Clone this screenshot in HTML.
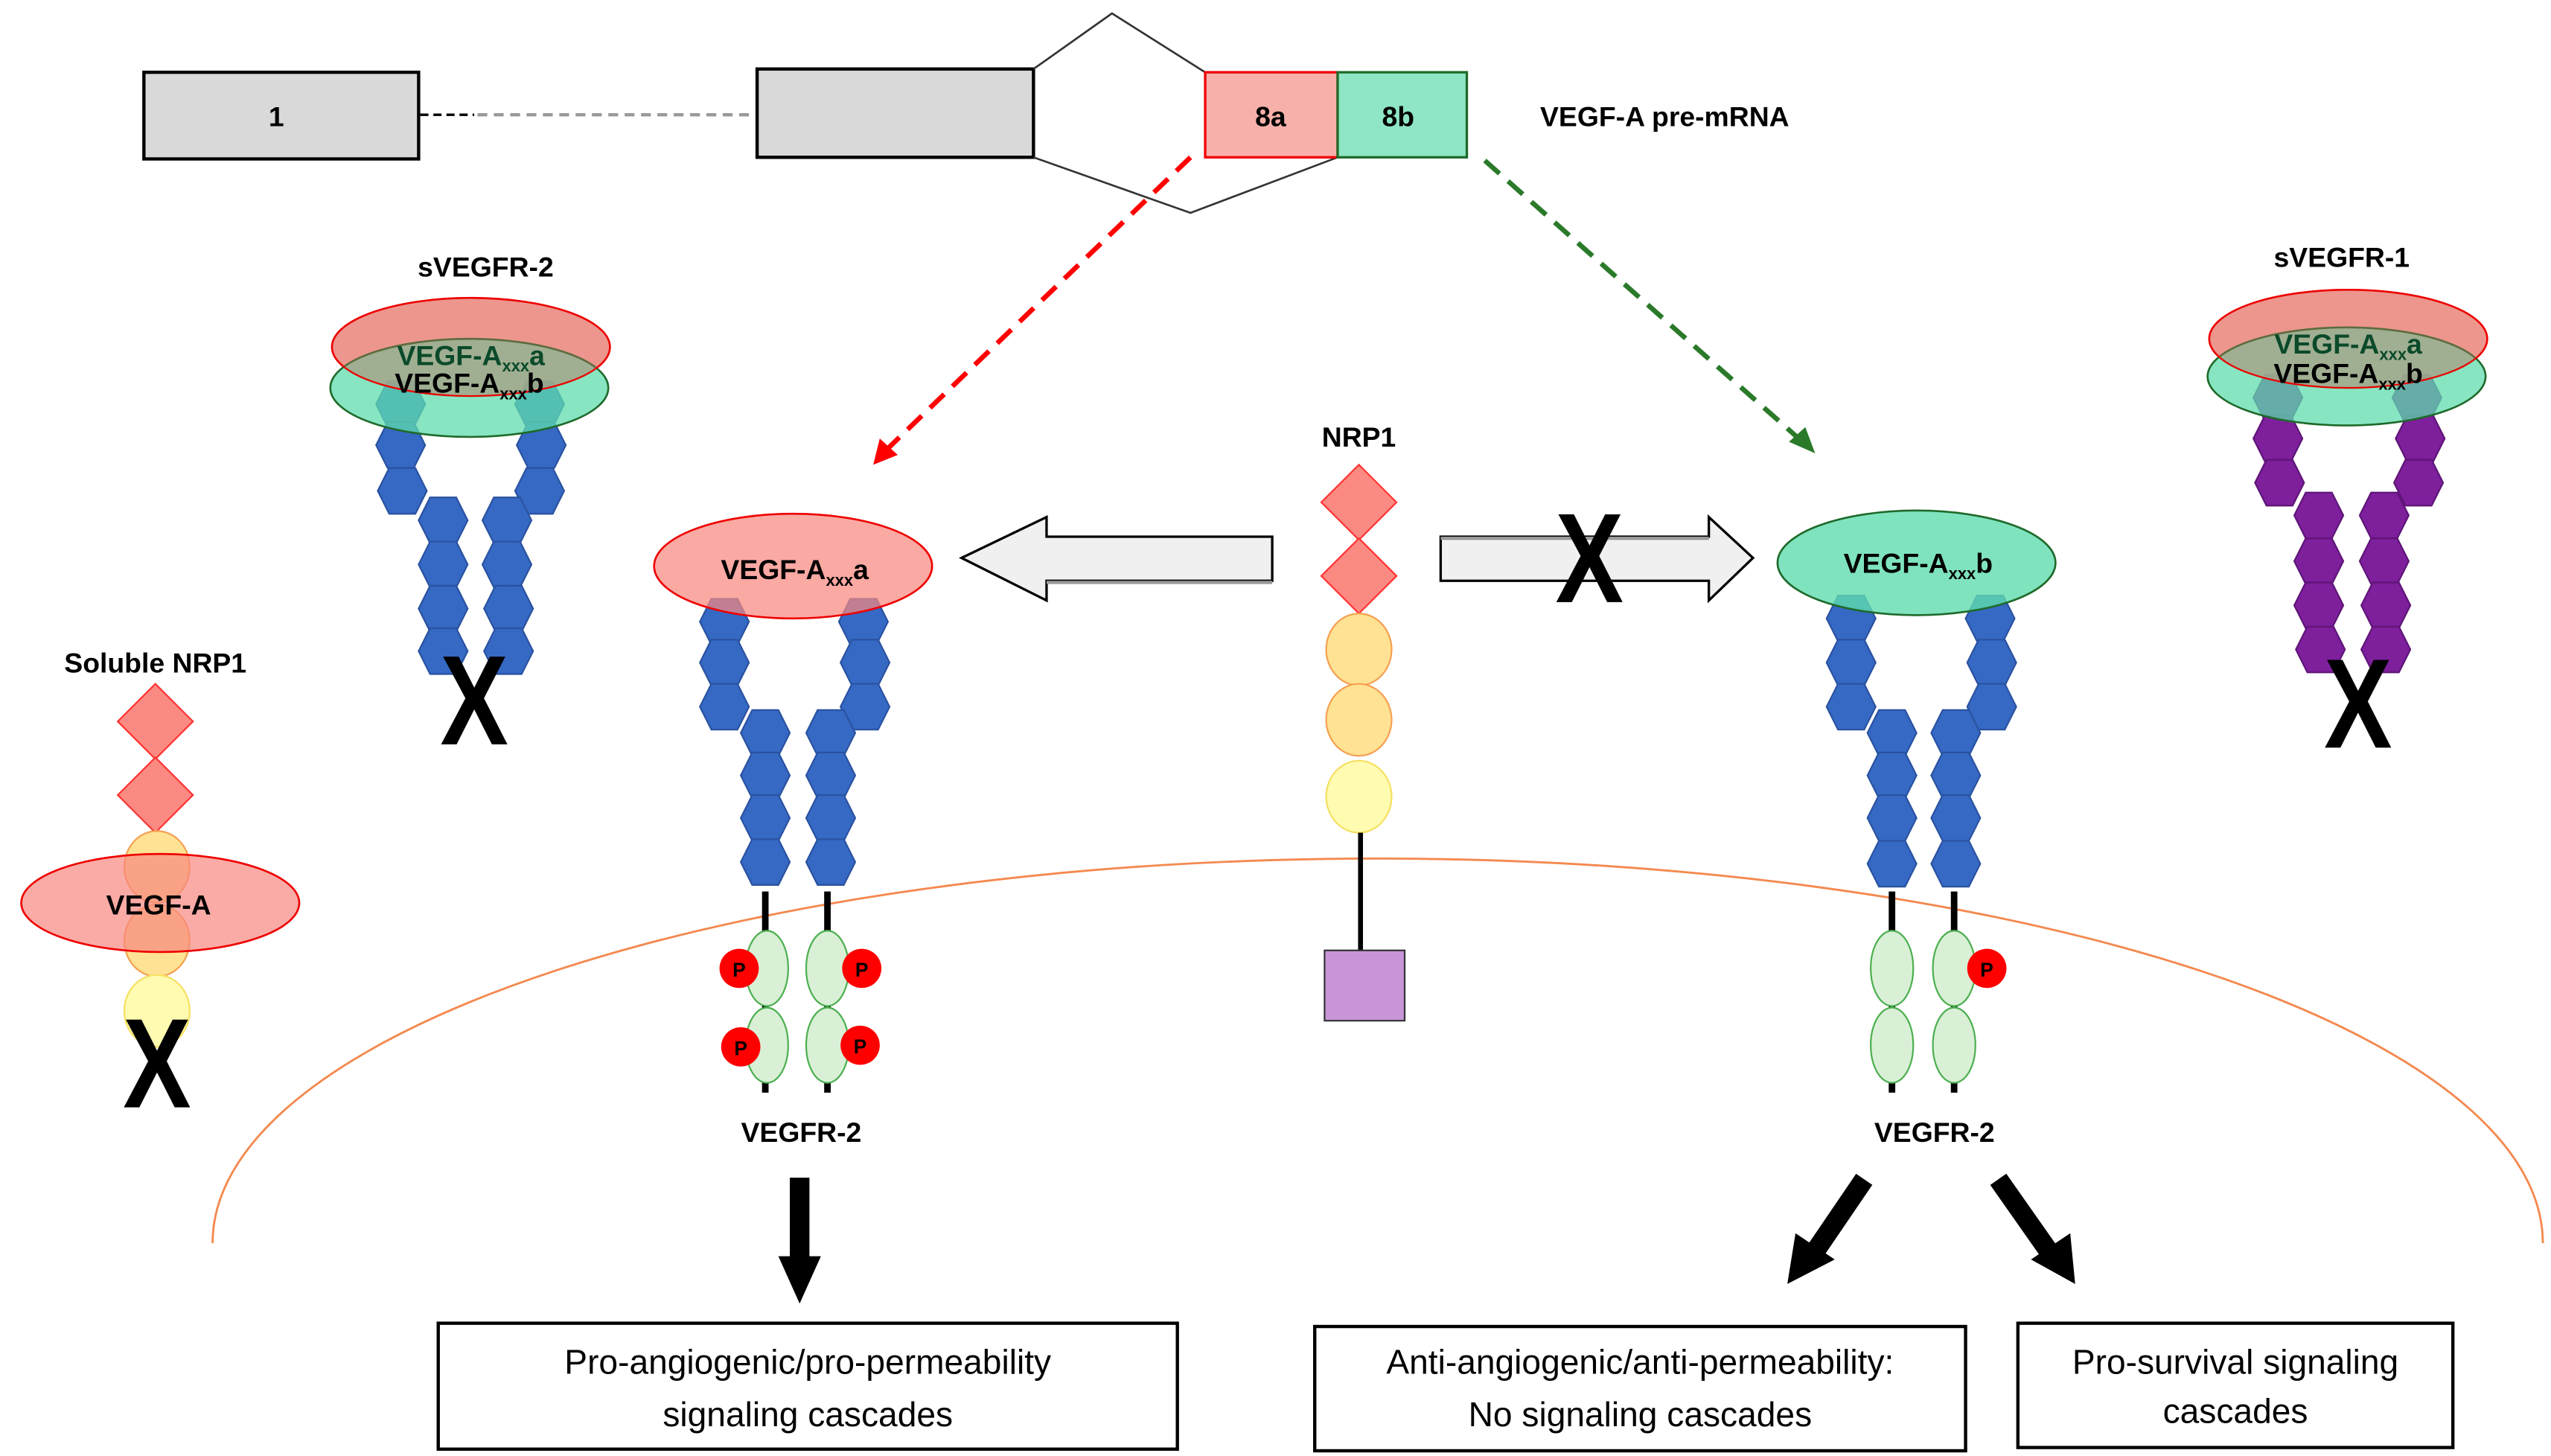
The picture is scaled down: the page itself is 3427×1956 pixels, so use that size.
<!DOCTYPE html>
<html><head><meta charset="utf-8"><style>
html,body{margin:0;padding:0;background:#fff;}
svg{display:block;}
text{font-family:"Liberation Sans",sans-serif;}
.lb{font-weight:bold;font-size:17px;fill:#000;text-anchor:middle;}
.bx{font-size:21px;fill:#000;text-anchor:middle;}
.xx{font-size:78px;font-weight:bold;text-anchor:middle;fill:#000;}
</style></head><body>
<svg width="3427" height="1956" viewBox="0 0 1560 890" xmlns="http://www.w3.org/2000/svg">
<defs>
<polygon id="hb" points="-8,-14 8,-14 15,0 8,14 -8,14 -15,0" fill="#3569c4" stroke="#2a52a0" stroke-width="1"/>
<polygon id="hp" points="-8,-14 8,-14 15,0 8,14 -8,14 -15,0" fill="#7e1f9c" stroke="#5e1577" stroke-width="1"/>
</defs>

<!-- membrane arc -->
<path d="M130,760 A712,235 0 0 1 1555,760" fill="none" stroke="#f4894f" stroke-width="1.3"/>

<!-- pre-mRNA -->
<rect x="88" y="44" width="168" height="53" fill="#d9d9d9" stroke="#000" stroke-width="2"/>
<text x="169" y="77" class="lb">1</text>
<line x1="257" y1="70" x2="290" y2="70" stroke="#000" stroke-width="1.5" stroke-dasharray="5,3"/>
<line x1="292" y1="70" x2="462" y2="70" stroke="#999" stroke-width="2" stroke-dasharray="6,4"/>
<rect x="463" y="42" width="169" height="54" fill="#d9d9d9" stroke="#000" stroke-width="2"/>
<polyline points="632,42 680,8 737,44" fill="none" stroke="#333" stroke-width="1.2"/>
<polyline points="632,96 728,130 818,96" fill="none" stroke="#333" stroke-width="1.2"/>
<rect x="737" y="44" width="81" height="52" fill="#f8b0ab" stroke="#e00" stroke-width="1.5"/>
<rect x="818" y="44" width="79" height="52" fill="#8ee6c4" stroke="#1f6a2b" stroke-width="1.5"/>
<text x="777" y="77" class="lb">8a</text>
<text x="855" y="77" class="lb">8b</text>
<text x="1018" y="77" class="lb">VEGF-A pre-mRNA</text>

<!-- dashed arrows -->
<line x1="728" y1="96" x2="543" y2="274" stroke="#f00" stroke-width="3" stroke-dasharray="12,7"/>
<polygon points="534,284 538,268 549,278" fill="#f00"/>
<line x1="908" y1="98" x2="1100" y2="268" stroke="#2a7a2a" stroke-width="3" stroke-dasharray="12,7"/>
<polygon points="1110,277 1094,270 1104,261" fill="#2a7a2a"/>

<!-- sVEGFR-2 -->
<text x="297" y="169" class="lb">sVEGFR-2</text>
<use href="#hb" x="245" y="247"/><use href="#hb" x="245" y="272"/><use href="#hb" x="246" y="300"/>
<use href="#hb" x="271" y="318"/><use href="#hb" x="271" y="345"/><use href="#hb" x="271" y="372"/><use href="#hb" x="271" y="398"/>
<use href="#hb" x="330" y="247"/><use href="#hb" x="331" y="272"/><use href="#hb" x="330" y="300"/>
<use href="#hb" x="310" y="318"/><use href="#hb" x="310" y="345"/><use href="#hb" x="311" y="372"/><use href="#hb" x="311" y="398"/>
<ellipse cx="288" cy="212" rx="85" ry="30" fill="#f88880" fill-opacity="0.7" stroke="#e00" stroke-width="1.2"/>
<ellipse cx="287" cy="237" rx="85" ry="30" fill="#5fdcae" fill-opacity="0.75" stroke="#1f6a2b" stroke-width="1.2"/>
<ellipse cx="288" cy="212" rx="85" ry="30" fill="#d07060" fill-opacity="0.35" stroke="#e00" stroke-width="1"/>
<text x="288" y="223" class="lb" style="fill:#0a4a2a">VEGF-A<tspan font-size="10" dy="4">xxx</tspan><tspan dy="-4">a</tspan></text>
<text x="287" y="240" class="lb">VEGF-A<tspan font-size="10" dy="4">xxx</tspan><tspan dy="-4">b</tspan></text>
<text class="xx" transform="translate(290,455) scale(0.8,1)">X</text>

<!-- Soluble NRP1 -->
<text x="95" y="411" class="lb">Soluble NRP1</text>
<polygon points="95,418 118,441 95,464 72,441" fill="#fb8a82" stroke="#f33" stroke-width="1"/>
<polygon points="95,463 118,486 95,509 72,486" fill="#fb8a82" stroke="#f33" stroke-width="1"/>
<ellipse cx="96" cy="530" rx="20" ry="22" fill="#ffe294" stroke="#f5a050" stroke-width="1"/>
<ellipse cx="96" cy="575" rx="20" ry="22" fill="#ffe294" stroke="#f5a050" stroke-width="1"/>
<ellipse cx="96" cy="618" rx="20" ry="22" fill="#fffbb0" stroke="#f5e060" stroke-width="1"/>
<ellipse cx="98" cy="552" rx="85" ry="30" fill="#f88880" fill-opacity="0.7" stroke="#e00" stroke-width="1.2"/>
<text x="97" y="559" class="lb">VEGF-A</text>
<text class="xx" transform="translate(96,677) scale(0.8,1)">X</text>

<!-- left VEGFR-2 -->
<use href="#hb" x="443" y="380"/><use href="#hb" x="443" y="405"/><use href="#hb" x="443" y="432"/>
<use href="#hb" x="468" y="448"/><use href="#hb" x="468" y="474"/><use href="#hb" x="468" y="500"/><use href="#hb" x="468" y="527"/>
<use href="#hb" x="528" y="380"/><use href="#hb" x="529" y="405"/><use href="#hb" x="529" y="432"/>
<use href="#hb" x="508" y="448"/><use href="#hb" x="508" y="474"/><use href="#hb" x="508" y="500"/><use href="#hb" x="508" y="527"/>
<ellipse cx="485" cy="346" rx="85" ry="32" fill="#f88880" fill-opacity="0.72" stroke="#e00" stroke-width="1.2"/>
<text x="486" y="354" class="lb">VEGF-A<tspan font-size="10" dy="4">xxx</tspan><tspan dy="-4">a</tspan></text>
<line x1="468" y1="545" x2="468" y2="668" stroke="#000" stroke-width="4"/>
<line x1="506" y1="545" x2="506" y2="668" stroke="#000" stroke-width="4"/>
<ellipse cx="469" cy="592" rx="13" ry="23" fill="#d9f0d6" stroke="#4caf50" stroke-width="1"/>
<ellipse cx="469" cy="639" rx="13" ry="23" fill="#d9f0d6" stroke="#4caf50" stroke-width="1"/>
<ellipse cx="506" cy="592" rx="13" ry="23" fill="#d9f0d6" stroke="#4caf50" stroke-width="1"/>
<ellipse cx="506" cy="639" rx="13" ry="23" fill="#d9f0d6" stroke="#4caf50" stroke-width="1"/>
<g font-size="12" font-weight="bold" text-anchor="middle">
<circle cx="452" cy="592" r="12" fill="#f00"/><text x="452" y="597">P</text>
<circle cx="527" cy="592" r="12" fill="#f00"/><text x="527" y="597">P</text>
<circle cx="453" cy="640" r="12" fill="#f00"/><text x="453" y="645">P</text>
<circle cx="526" cy="639" r="12" fill="#f00"/><text x="526" y="644">P</text>
</g>
<text x="490" y="698" class="lb">VEGFR-2</text>
<rect x="483" y="720" width="12" height="50" fill="#000"/>
<polygon points="476,768 502,768 489,797" fill="#000"/>

<!-- hollow left arrow -->
<polygon points="778,328 640,328 640,316 588,341 640,367 640,355 778,355" fill="#f0f0f0" stroke="#000" stroke-width="1.5"/>
<line x1="640" y1="356" x2="778" y2="356" stroke="#999" stroke-width="2"/>

<!-- NRP1 -->
<text x="831" y="273" class="lb">NRP1</text>
<polygon points="831,284 854,307 831,330 808,307" fill="#fb8a82" stroke="#f33" stroke-width="1"/>
<polygon points="831,329 854,352 831,375 808,352" fill="#fb8a82" stroke="#f33" stroke-width="1"/>
<ellipse cx="831" cy="397" rx="20" ry="22" fill="#ffe294" stroke="#f5a050" stroke-width="1"/>
<ellipse cx="831" cy="440" rx="20" ry="22" fill="#ffe294" stroke="#f5a050" stroke-width="1"/>
<ellipse cx="831" cy="487" rx="20" ry="22" fill="#fffbb0" stroke="#f5e060" stroke-width="1"/>
<line x1="832" y1="509" x2="832" y2="581" stroke="#000" stroke-width="3"/>
<rect x="810" y="581" width="49" height="43" fill="#c896d8" stroke="#333" stroke-width="1"/>

<!-- hollow right arrow -->
<polygon points="881,328 1045,328 1045,316 1072,341 1045,367 1045,355 881,355" fill="#f0f0f0" stroke="#000" stroke-width="1.5"/>
<line x1="881" y1="329" x2="1045" y2="329" stroke="#999" stroke-width="2"/>
<text class="xx" transform="translate(972,368) scale(0.8,1)">X</text>

<!-- right VEGFR-2 -->
<use href="#hb" x="1132" y="378"/><use href="#hb" x="1132" y="405"/><use href="#hb" x="1132" y="432"/>
<use href="#hb" x="1157" y="448"/><use href="#hb" x="1157" y="474"/><use href="#hb" x="1157" y="500"/><use href="#hb" x="1157" y="528"/>
<use href="#hb" x="1217" y="378"/><use href="#hb" x="1218" y="405"/><use href="#hb" x="1218" y="432"/>
<use href="#hb" x="1196" y="448"/><use href="#hb" x="1196" y="474"/><use href="#hb" x="1196" y="500"/><use href="#hb" x="1196" y="528"/>
<ellipse cx="1172" cy="344" rx="85" ry="32" fill="#5fdcae" fill-opacity="0.8" stroke="#1f6a2b" stroke-width="1.2"/>
<text x="1173" y="350" class="lb">VEGF-A<tspan font-size="10" dy="4">xxx</tspan><tspan dy="-4">b</tspan></text>
<line x1="1157" y1="545" x2="1157" y2="668" stroke="#000" stroke-width="4"/>
<line x1="1195" y1="545" x2="1195" y2="668" stroke="#000" stroke-width="4"/>
<ellipse cx="1157" cy="592" rx="13" ry="23" fill="#d9f0d6" stroke="#4caf50" stroke-width="1"/>
<ellipse cx="1157" cy="639" rx="13" ry="23" fill="#d9f0d6" stroke="#4caf50" stroke-width="1"/>
<ellipse cx="1195" cy="592" rx="13" ry="23" fill="#d9f0d6" stroke="#4caf50" stroke-width="1"/>
<ellipse cx="1195" cy="639" rx="13" ry="23" fill="#d9f0d6" stroke="#4caf50" stroke-width="1"/>
<circle cx="1215" cy="592" r="12" fill="#f00"/><text x="1215" y="597" font-size="12" font-weight="bold" text-anchor="middle">P</text>
<text x="1183" y="698" class="lb">VEGFR-2</text>
<line x1="1140" y1="721" x2="1108" y2="768" stroke="#000" stroke-width="12"/>
<polygon points="1093,785 1098,754 1122,770" fill="#000"/>
<line x1="1222" y1="721" x2="1255" y2="768" stroke="#000" stroke-width="12"/>
<polygon points="1269,785 1242,770 1266,754" fill="#000"/>

<!-- sVEGFR-1 -->
<text x="1432" y="163" class="lb">sVEGFR-1</text>
<use href="#hp" x="1393" y="243"/><use href="#hp" x="1393" y="268"/><use href="#hp" x="1394" y="295"/>
<use href="#hp" x="1418" y="315"/><use href="#hp" x="1418" y="343"/><use href="#hp" x="1418" y="370"/><use href="#hp" x="1419" y="397"/>
<use href="#hp" x="1478" y="243"/><use href="#hp" x="1480" y="268"/><use href="#hp" x="1479" y="295"/>
<use href="#hp" x="1458" y="315"/><use href="#hp" x="1458" y="343"/><use href="#hp" x="1459" y="370"/><use href="#hp" x="1459" y="397"/>
<ellipse cx="1436" cy="207" rx="85" ry="30" fill="#f88880" fill-opacity="0.7" stroke="#e00" stroke-width="1.2"/>
<ellipse cx="1435" cy="230" rx="85" ry="30" fill="#5fdcae" fill-opacity="0.75" stroke="#1f6a2b" stroke-width="1.2"/>
<ellipse cx="1436" cy="207" rx="85" ry="30" fill="#d07060" fill-opacity="0.35" stroke="#e00" stroke-width="1"/>
<text x="1436" y="216" class="lb" style="fill:#0a4a2a">VEGF-A<tspan font-size="10" dy="4">xxx</tspan><tspan dy="-4">a</tspan></text>
<text x="1436" y="234" class="lb">VEGF-A<tspan font-size="10" dy="4">xxx</tspan><tspan dy="-4">b</tspan></text>
<text class="xx" transform="translate(1442,457) scale(0.8,1)">X</text>

<!-- boxes -->
<rect x="268" y="809" width="452" height="77" fill="#fff" stroke="#000" stroke-width="2"/>
<text x="494" y="840" class="bx">Pro-angiogenic/pro-permeability</text>
<text x="494" y="872" class="bx">signaling cascades</text>
<rect x="804" y="811" width="398" height="76" fill="#fff" stroke="#000" stroke-width="2"/>
<text x="1003" y="840" class="bx">Anti-angiogenic/anti-permeability:</text>
<text x="1003" y="872" class="bx">No signaling cascades</text>
<rect x="1234" y="809" width="266" height="76" fill="#fff" stroke="#000" stroke-width="2"/>
<text x="1367" y="840" class="bx">Pro-survival signaling</text>
<text x="1367" y="870" class="bx">cascades</text>
</svg>
</body></html>
